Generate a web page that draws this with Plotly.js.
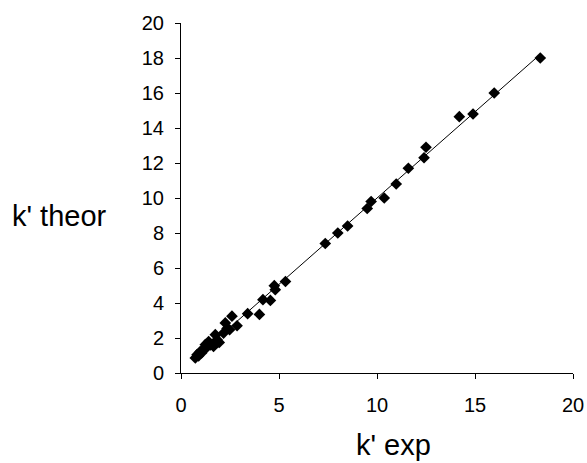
<!DOCTYPE html>
<html>
<head>
<meta charset="utf-8">
<script src="https://cdn.plot.ly/plotly-3.0.1.min.js"></script>
<style>html,body{margin:0;padding:0;background:#fff;}#chart{width:587px;height:463px;}</style>
</head>
<body>
<div id="chart"></div>
<script>
// k' experimental values
const kExp = [0.73, 0.82, 0.90, 0.98, 1.05, 1.15, 1.24, 1.30, 1.41, 1.50, 1.66, 1.75, 1.84, 1.95, 2.17, 2.26, 2.35, 2.48, 2.60, 2.86, 3.40, 4.00, 4.18, 4.56, 4.76, 4.81, 5.33, 7.36, 8.00, 8.50, 9.50, 9.70, 10.37, 10.98, 11.60, 12.40, 12.50, 14.20, 14.90, 15.98, 18.33];
// k' theoretical values
const kTheor = [0.86, 1.05, 0.98, 1.23, 1.15, 1.37, 1.62, 1.45, 1.80, 1.60, 1.52, 2.19, 1.90, 1.75, 2.28, 2.86, 2.55, 2.47, 3.25, 2.70, 3.39, 3.35, 4.19, 4.15, 4.99, 4.76, 5.23, 7.40, 8.00, 8.40, 9.40, 9.80, 10.00, 10.80, 11.70, 12.30, 12.90, 14.65, 14.80, 16.00, 18.00];
const xTicks = [0, 5, 10, 15, 20];
const yTicks = [0, 2, 4, 6, 8, 10, 12, 14, 16, 18, 20];

// least-squares trend line through the data
const n = kExp.length;
const mx = kExp.reduce((a, b) => a + b, 0) / n;
const my = kTheor.reduce((a, b) => a + b, 0) / n;
let sxy = 0, sxx = 0;
for (let i = 0; i < n; i++) { sxy += (kExp[i] - mx) * (kTheor[i] - my); sxx += (kExp[i] - mx) ** 2; }
const slope = sxy / sxx, icpt = my - slope * mx;
const xMin = Math.min(...kExp), xMax = Math.max(...kExp);
const lineX = [xMin, xMax];
const lineY = lineX.map(v => icpt + slope * v);

const font = {family: 'Liberation Sans, Arial, sans-serif', color: '#000'};

const data = [
  {x: lineX, y: lineY, mode: 'lines', line: {color: '#000', width: 1}, hoverinfo: 'skip', showlegend: false},
  {x: kExp, y: kTheor, mode: 'markers', marker: {symbol: 'diamond', size: 9, color: '#000'}, showlegend: false}
];

const layout = {
  width: 587, height: 463,
  margin: {l: 181, r: 14, t: 23, b: 90},
  paper_bgcolor: '#fff', plot_bgcolor: '#fff',
  font: Object.assign({size: 20}, font),
  showlegend: false,
  xaxis: {
    range: [0, 20], tickvals: xTicks, ticktext: xTicks.map(String),
    showgrid: false, zeroline: false, showline: true, linecolor: '#000', linewidth: 1,
    ticks: 'outside', ticklen: 5, tickcolor: '#000', tickwidth: 1,
    tickfont: Object.assign({size: 20}, font), ticklabelstandoff: 9
  },
  yaxis: {
    range: [0, 20], tickvals: yTicks, ticktext: yTicks.map(String),
    showgrid: false, zeroline: false, showline: true, linecolor: '#000', linewidth: 1,
    ticks: 'outside', ticklen: 5, tickcolor: '#000', tickwidth: 1,
    tickfont: Object.assign({size: 20}, font), ticklabelstandoff: 7
  },
  annotations: [
    {text: "k' theor", xref: 'paper', yref: 'paper', x: -0.311, y: 0.449, xanchor: 'center', yanchor: 'middle',
     showarrow: false, font: Object.assign({size: 29}, font)},
    {text: "k' exp", xref: 'paper', yref: 'paper', x: 0.541, y: -0.207, xanchor: 'center', yanchor: 'middle',
     showarrow: false, font: Object.assign({size: 29}, font)}
  ]
};

Plotly.newPlot('chart', data, layout, {displayModeBar: false, staticPlot: true});
</script>
</body>
</html>
